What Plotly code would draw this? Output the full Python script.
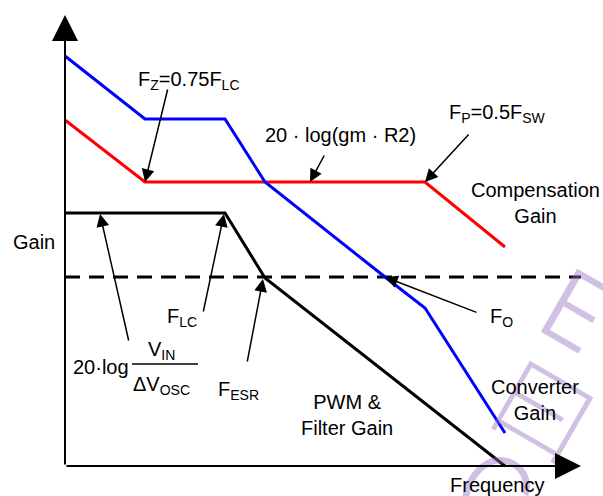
import plotly.graph_objects as go

# breakpoints: x in decades from the origin, y in dB
blue_x = [0, 2, 4, 5, 8, 9, 11]
blue_y = [82, 69.4, 69.4, 56.8, 37.8, 31.6, 6.6]

red_x = [0, 2, 9, 11]
red_y = [69.2, 56.8, 56.8, 43.8]

black_x = [0, 4, 5, 11]
black_y = [50.6, 50.6, 37.6, 0]

cross_y = 37.8          # 0 dB crossover (dashed)
x_end = 12.9
y_end = 90.2

FONT = "Liberation Sans, Arial, sans-serif"
WM = "rgba(150,115,195,0.45)"

fig = go.Figure()

fig.add_scatter(x=[0, x_end], y=[cross_y, cross_y], mode="lines",
                line=dict(color="black", width=3, dash="15px,9px"))
fig.add_scatter(x=red_x, y=red_y, mode="lines", line=dict(color="#ff0000", width=3))
fig.add_scatter(x=blue_x, y=blue_y, mode="lines", line=dict(color="#0000ff", width=3))
fig.add_scatter(x=black_x, y=black_y, mode="lines", line=dict(color="black", width=3))

# faint watermark glyphs
fig.add_annotation(x=12.8, y=31.2, text="E", showarrow=False, textangle=30,
                   font=dict(family="Inter, Lato, sans-serif", size=100, weight=350, color=WM))
fig.add_annotation(x=12.05, y=12.4, text="曰", showarrow=False, textangle=30,
                   font=dict(family="Noto Sans CJK SC", size=100, weight=300, color=WM))
fig.add_annotation(x=10.75, y=-5.2, text="C", showarrow=False, textangle=30,
                   font=dict(family="Inter, Lato, sans-serif", size=100, weight=350, color=WM))

# axes drawn as arrows
fig.add_annotation(x=0, y=y_end, ax=0, ay=0, axref="x", ayref="y", text="",
                   showarrow=True, arrowhead=2, arrowsize=2.6, arrowwidth=2, arrowcolor="black")
fig.add_annotation(x=x_end, y=0, ax=0, ay=0, axref="x", ayref="y", text="",
                   showarrow=True, arrowhead=2, arrowsize=2.6, arrowwidth=2, arrowcolor="black")

# pointer arrows: (tip_x, tip_y, tail_x, tail_y)
pointers = [
    (2, 56.8, 2.575, 75.6),
    (6.125, 56.8, 6.5, 62.4),
    (9, 56.8, 10.125, 66.6),
    (0.875, 50.4, 1.6, 24.8),
    (3.975, 50.4, 3.45, 30.6),
    (4.95, 37.4, 4.55, 20.6),
    (8.0, 37.8, 10.325, 30.6),
]
for tx, ty, sx, sy in pointers:
    fig.add_annotation(x=tx, y=ty, ax=sx, ay=sy, axref="x", ayref="y", text="",
                       showarrow=True, arrowhead=2, arrowsize=1.7, arrowwidth=1.5,
                       arrowcolor="black")

labels = [
    (3.1, 77.2, "F<sub>Z</sub>=0.75F<sub>LC</sub>"),
    (6.875, 66.2, "20 · log(gm · R2)"),
    (10.8, 70.6, "F<sub>P</sub>=0.5F<sub>SW</sub>"),
    (11.75, 52.7, "Compensation<br>Gain"),
    (-0.775, 44.8, "Gain"),
    (2.925, 29.8, "F<sub>LC</sub>"),
    (0.89, 19.8, "20·log"),
    (2.4, 23.2, "V<sub>IN</sub>"),
    (2.4, 16.2, "ΔV<sub>OSC</sub>"),
    (4.325, 15.2, "F<sub>ESR</sub>"),
    (10.9, 29.8, "F<sub>O</sub>"),
    (7.05, 10.2, "PWM &<br>Filter Gain"),
    (11.75, 13.2, "Converter<br>Gain"),
    (10.8, -3.8, "Frequency"),
]
for lx, ly, txt in labels:
    fig.add_annotation(x=lx, y=ly, text=txt, showarrow=False,
                       font=dict(family=FONT, size=20, color="black"))

# fraction bar
fig.add_shape(type="line", x0=1.675, x1=3.325, y0=20.4, y1=20.4,
              line=dict(color="black", width=1.5))

fig.update_layout(
    width=603, height=496,
    margin=dict(l=0, r=0, t=0, b=0),
    paper_bgcolor="white", plot_bgcolor="white",
    showlegend=False,
    xaxis=dict(range=[-1.625, 13.45], visible=False, fixedrange=True),
    yaxis=dict(range=[-6, 93.2], visible=False, fixedrange=True),
)

fig.write_html("out.html", config={"displayModeBar": False},
               post_script="document.body.style.margin='0';")
